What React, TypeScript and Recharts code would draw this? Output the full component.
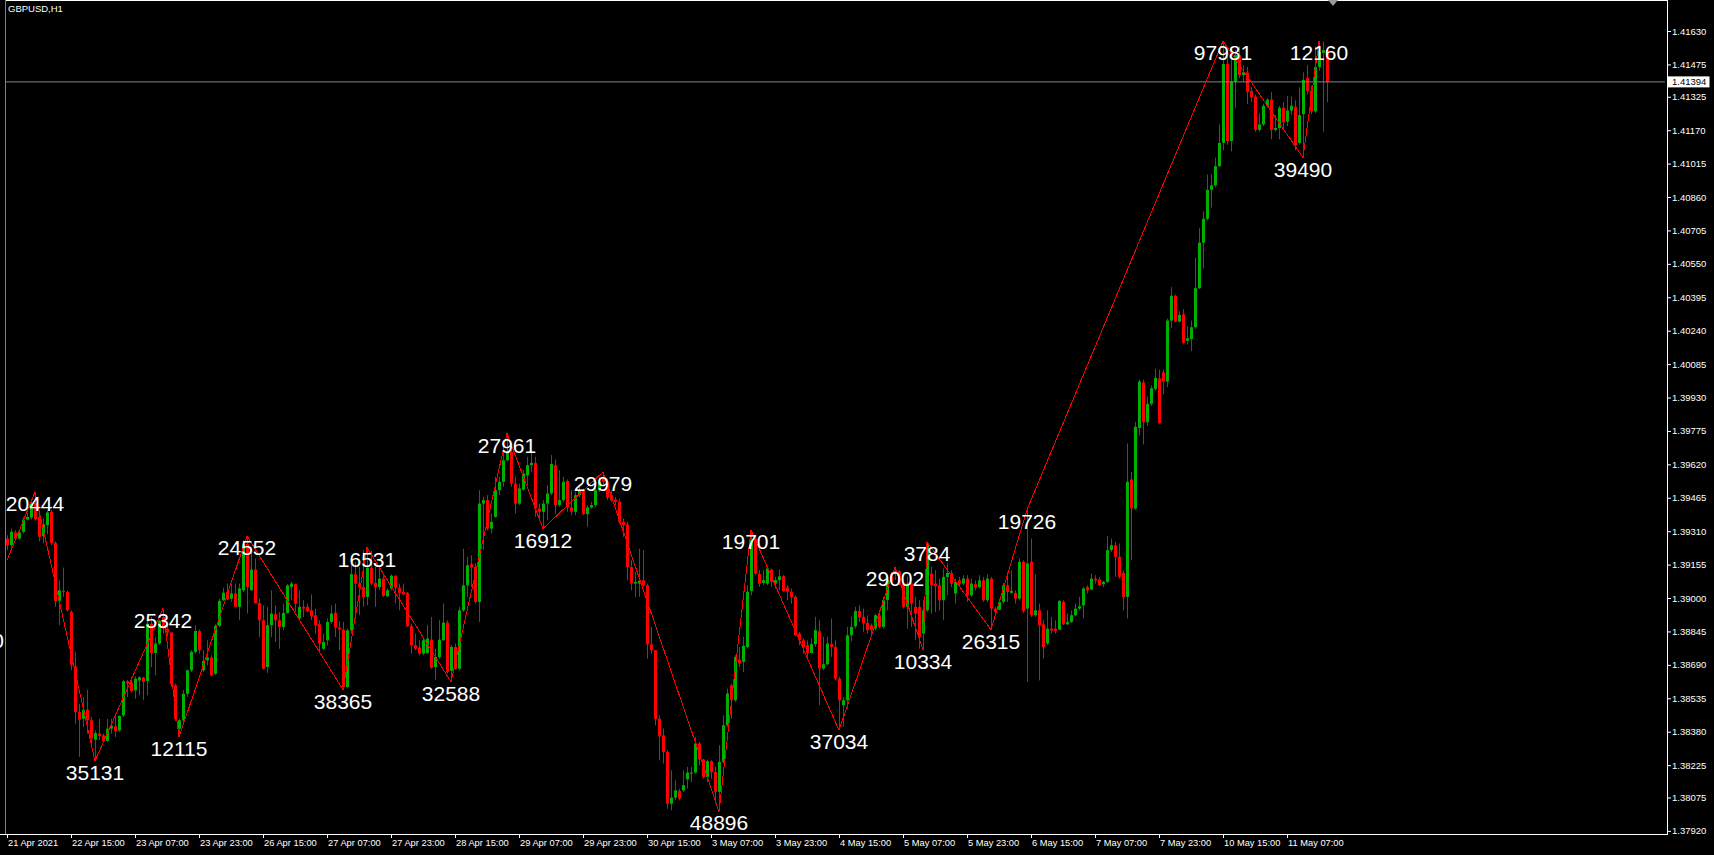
import React from 'react'
import { ComposedChart, Bar, Line, XAxis, YAxis, ReferenceLine, LabelList } from 'recharts'

// ---------------------------------------------------------------------------
// Data — GBPUSD H1, one tuple per bar: [open, high, low, close]
// ---------------------------------------------------------------------------

const SYMBOL = 'GBPUSD,H1'
const BID = 1.41394

const ohlc: [number, number, number, number][] = [
  [1.39276, 1.39291, 1.39222, 1.39245], [1.39245, 1.39322, 1.39234, 1.39307], [1.39304, 1.39315, 1.39268, 1.39276], [1.39276, 1.39318, 1.39268, 1.39304],
  [1.39307, 1.39376, 1.39299, 1.39364], [1.39364, 1.39395, 1.39358, 1.39376], [1.39373, 1.39457, 1.39364, 1.39438], [1.39441, 1.39491, 1.39358, 1.39366],
  [1.39376, 1.39395, 1.39263, 1.39284], [1.39287, 1.39369, 1.39253, 1.39342], [1.39338, 1.39407, 1.39296, 1.39397], [1.39400, 1.39410, 1.39245, 1.39256],
  [1.39256, 1.39263, 1.38959, 1.38985], [1.38987, 1.39082, 1.38874, 1.39036], [1.39033, 1.39141, 1.39005, 1.39027], [1.39028, 1.39036, 1.38936, 1.38943],
  [1.38936, 1.38943, 1.38665, 1.38691], [1.38683, 1.38750, 1.38417, 1.38471], [1.38471, 1.38510, 1.38263, 1.38436], [1.38440, 1.38541, 1.38402, 1.38482],
  [1.38482, 1.38575, 1.38371, 1.38433], [1.38433, 1.38448, 1.38324, 1.38348], [1.38343, 1.38386, 1.38244, 1.38374], [1.38371, 1.38440, 1.38340, 1.38360],
  [1.38363, 1.38371, 1.38332, 1.38337], [1.38337, 1.38440, 1.38332, 1.38394], [1.38394, 1.38440, 1.38371, 1.38408], [1.38405, 1.38464, 1.38355, 1.38383],
  [1.38386, 1.38456, 1.38379, 1.38453], [1.38456, 1.38621, 1.38448, 1.38614], [1.38614, 1.38621, 1.38541, 1.38603], [1.38608, 1.38634, 1.38564, 1.38569],
  [1.38572, 1.38637, 1.38533, 1.38626], [1.38618, 1.38637, 1.38549, 1.38632], [1.38631, 1.38634, 1.38526, 1.38611], [1.38615, 1.38889, 1.38549, 1.38881],
  [1.38881, 1.38912, 1.38680, 1.38745], [1.38745, 1.38819, 1.38642, 1.38789], [1.38789, 1.38900, 1.38781, 1.38894], [1.38912, 1.38951, 1.38835, 1.38858],
  [1.38858, 1.38881, 1.38823, 1.38840], [1.38840, 1.38843, 1.38587, 1.38600], [1.38595, 1.38603, 1.38430, 1.38440], [1.38394, 1.38440, 1.38355, 1.38433],
  [1.38433, 1.38572, 1.38425, 1.38556], [1.38556, 1.38668, 1.38541, 1.38665], [1.38665, 1.38758, 1.38657, 1.38750], [1.38750, 1.38874, 1.38742, 1.38847],
  [1.38847, 1.38854, 1.38742, 1.38758], [1.38665, 1.38758, 1.38657, 1.38708], [1.38711, 1.38804, 1.38688, 1.38724], [1.38724, 1.38734, 1.38637, 1.38642],
  [1.38649, 1.38878, 1.38642, 1.38871], [1.38871, 1.38997, 1.38866, 1.38987], [1.38990, 1.39048, 1.38985, 1.39025], [1.39028, 1.39067, 1.38990, 1.38994],
  [1.38997, 1.39067, 1.38982, 1.39021], [1.39021, 1.39067, 1.38959, 1.38959], [1.38959, 1.39067, 1.38897, 1.39044], [1.39036, 1.39268, 1.39028, 1.39250],
  [1.39250, 1.39288, 1.38928, 1.39051], [1.39036, 1.39214, 1.39033, 1.39132], [1.39132, 1.39183, 1.38974, 1.38977], [1.38977, 1.38997, 1.38819, 1.38897],
  [1.38897, 1.38966, 1.38668, 1.38672], [1.38680, 1.38959, 1.38652, 1.38874], [1.38874, 1.39036, 1.38819, 1.38928], [1.38925, 1.38966, 1.38796, 1.38897],
  [1.38897, 1.38935, 1.38765, 1.38866], [1.38866, 1.38974, 1.38850, 1.38931], [1.38931, 1.39064, 1.38928, 1.39059], [1.39051, 1.39075, 1.38990, 1.39067],
  [1.39064, 1.39067, 1.38935, 1.38974], [1.38905, 1.39036, 1.38900, 1.38959], [1.38959, 1.38990, 1.38912, 1.38951], [1.38959, 1.38974, 1.38935, 1.38940],
  [1.38943, 1.39017, 1.38897, 1.38915], [1.38920, 1.38951, 1.38835, 1.38874], [1.38878, 1.38897, 1.38750, 1.38789], [1.38765, 1.38835, 1.38758, 1.38796],
  [1.38804, 1.38905, 1.38781, 1.38889], [1.38889, 1.38966, 1.38881, 1.38928], [1.38931, 1.38974, 1.38819, 1.38863], [1.38863, 1.38892, 1.38758, 1.38855],
  [1.38853, 1.38889, 1.38575, 1.38587], [1.38587, 1.38858, 1.38580, 1.38850], [1.38850, 1.39160, 1.38835, 1.39110], [1.39110, 1.39168, 1.38920, 1.39067],
  [1.39067, 1.39144, 1.38920, 1.39051], [1.39051, 1.39222, 1.38959, 1.39005], [1.39005, 1.39234, 1.38966, 1.39141], [1.39141, 1.39219, 1.39059, 1.39067],
  [1.39070, 1.39144, 1.38959, 1.39051], [1.39051, 1.39144, 1.39036, 1.39090], [1.39090, 1.39106, 1.39005, 1.39010], [1.39008, 1.39044, 1.39005, 1.39036],
  [1.39044, 1.39110, 1.39036, 1.39103], [1.39103, 1.39106, 1.38974, 1.39048], [1.39048, 1.39067, 1.38943, 1.39024], [1.39028, 1.39067, 1.39013, 1.39017],
  [1.39024, 1.39028, 1.38866, 1.38869], [1.38869, 1.38881, 1.38742, 1.38781], [1.38781, 1.38835, 1.38758, 1.38765], [1.38770, 1.38804, 1.38734, 1.38742],
  [1.38742, 1.38812, 1.38734, 1.38804], [1.38745, 1.38874, 1.38742, 1.38812], [1.38807, 1.38912, 1.38672, 1.38677], [1.38680, 1.38765, 1.38621, 1.38727],
  [1.38727, 1.38897, 1.38719, 1.38807], [1.38804, 1.38974, 1.38801, 1.38886], [1.38886, 1.38897, 1.38649, 1.38657], [1.38662, 1.38781, 1.38611, 1.38773],
  [1.38773, 1.38789, 1.38668, 1.38672], [1.38672, 1.38959, 1.38665, 1.38943], [1.38943, 1.39229, 1.38935, 1.39059], [1.39059, 1.39191, 1.39005, 1.39152],
  [1.39157, 1.39198, 1.39051, 1.39141], [1.39144, 1.39160, 1.38974, 1.38982], [1.38982, 1.39500, 1.38889, 1.39438], [1.39438, 1.39469, 1.39222, 1.39454],
  [1.39454, 1.39477, 1.39314, 1.39322], [1.39322, 1.39392, 1.39299, 1.39353], [1.39376, 1.39562, 1.39373, 1.39500], [1.39500, 1.39562, 1.39477, 1.39539],
  [1.39539, 1.39686, 1.39516, 1.39639], [1.39639, 1.39763, 1.39632, 1.39678], [1.39678, 1.39709, 1.39516, 1.39531], [1.39531, 1.39562, 1.39392, 1.39438],
  [1.39438, 1.39531, 1.39431, 1.39508], [1.39503, 1.39593, 1.39497, 1.39577], [1.39570, 1.39655, 1.39523, 1.39616], [1.39616, 1.39678, 1.39585, 1.39627],
  [1.39627, 1.39655, 1.39376, 1.39415], [1.39415, 1.39438, 1.39361, 1.39400], [1.39400, 1.39454, 1.39322, 1.39438], [1.39438, 1.39523, 1.39361, 1.39485],
  [1.39485, 1.39663, 1.39477, 1.39621], [1.39616, 1.39642, 1.39392, 1.39431], [1.39431, 1.39593, 1.39423, 1.39454], [1.39454, 1.39562, 1.39446, 1.39539],
  [1.39543, 1.39550, 1.39400, 1.39420], [1.39420, 1.39500, 1.39384, 1.39400], [1.39400, 1.39492, 1.39384, 1.39477], [1.39477, 1.39523, 1.39469, 1.39500],
  [1.39500, 1.39508, 1.39384, 1.39389], [1.39389, 1.39431, 1.39330, 1.39420], [1.39420, 1.39446, 1.39415, 1.39431], [1.39431, 1.39516, 1.39423, 1.39500],
  [1.39500, 1.39562, 1.39492, 1.39539], [1.39562, 1.39585, 1.39523, 1.39539], [1.39539, 1.39554, 1.39454, 1.39466], [1.39477, 1.39500, 1.39446, 1.39454],
  [1.39457, 1.39469, 1.39431, 1.39446], [1.39446, 1.39461, 1.39345, 1.39353], [1.39353, 1.39369, 1.39284, 1.39338], [1.39342, 1.39353, 1.39082, 1.39144],
  [1.39144, 1.39175, 1.39036, 1.39067], [1.39067, 1.39121, 1.39005, 1.39075], [1.39067, 1.39229, 1.39005, 1.39079], [1.39082, 1.39222, 1.39051, 1.39059],
  [1.39059, 1.39067, 1.38719, 1.38785], [1.38785, 1.38866, 1.38742, 1.38758], [1.38758, 1.38758, 1.38409, 1.38440], [1.38440, 1.38456, 1.38247, 1.38358],
  [1.38363, 1.38395, 1.38232, 1.38286], [1.38286, 1.38294, 1.38023, 1.38046], [1.38046, 1.38201, 1.38015, 1.38074], [1.38074, 1.38155, 1.38062, 1.38108],
  [1.38105, 1.38116, 1.38062, 1.38070], [1.38108, 1.38201, 1.38101, 1.38132], [1.38159, 1.38217, 1.38116, 1.38190], [1.38186, 1.38217, 1.38147, 1.38190],
  [1.38190, 1.38356, 1.38186, 1.38325], [1.38325, 1.38333, 1.38224, 1.38251], [1.38251, 1.38255, 1.38162, 1.38170], [1.38170, 1.38251, 1.38147, 1.38243],
  [1.38243, 1.38248, 1.38162, 1.38193], [1.38193, 1.38217, 1.38046, 1.38101], [1.38101, 1.38317, 1.38010, 1.38240], [1.38240, 1.38456, 1.38232, 1.38410],
  [1.38410, 1.38580, 1.38402, 1.38557], [1.38595, 1.38603, 1.38441, 1.38526], [1.38526, 1.38735, 1.38518, 1.38727], [1.38715, 1.38773, 1.38680, 1.38696],
  [1.38704, 1.38820, 1.38657, 1.38778], [1.38773, 1.39060, 1.38766, 1.39029], [1.39033, 1.39315, 1.39013, 1.39271], [1.39276, 1.39292, 1.39106, 1.39114],
  [1.39111, 1.39129, 1.39052, 1.39067], [1.39070, 1.39129, 1.39060, 1.39083], [1.39067, 1.39145, 1.39060, 1.39137], [1.39132, 1.39137, 1.39052, 1.39075],
  [1.39067, 1.39098, 1.39044, 1.39083], [1.39083, 1.39132, 1.39036, 1.39101], [1.39101, 1.39106, 1.39029, 1.39033], [1.39049, 1.39060, 1.38990, 1.39029],
  [1.39029, 1.39044, 1.38974, 1.39005], [1.39005, 1.39013, 1.38823, 1.38827], [1.38835, 1.38843, 1.38781, 1.38804], [1.38804, 1.38812, 1.38742, 1.38773],
  [1.38781, 1.38804, 1.38727, 1.38745], [1.38745, 1.38812, 1.38742, 1.38786], [1.38786, 1.38913, 1.38773, 1.38851], [1.38846, 1.38897, 1.38503, 1.38673],
  [1.38673, 1.38820, 1.38665, 1.38693], [1.38693, 1.38820, 1.38688, 1.38789], [1.38786, 1.38905, 1.38727, 1.38773], [1.38773, 1.38804, 1.38619, 1.38626],
  [1.38626, 1.38634, 1.38387, 1.38526], [1.38503, 1.38541, 1.38402, 1.38526], [1.38526, 1.38866, 1.38487, 1.38827], [1.38827, 1.38913, 1.38800, 1.38866],
  [1.38869, 1.38959, 1.38858, 1.38940], [1.38940, 1.38967, 1.38889, 1.38909], [1.38913, 1.38951, 1.38843, 1.38882], [1.38885, 1.38920, 1.38835, 1.38851],
  [1.38874, 1.38882, 1.38827, 1.38851], [1.38858, 1.38928, 1.38851, 1.38920], [1.38920, 1.38936, 1.38858, 1.38866], [1.38866, 1.39005, 1.38858, 1.38990],
  [1.38990, 1.39098, 1.38943, 1.39083], [1.39111, 1.39121, 1.39067, 1.39075], [1.39111, 1.39145, 1.39083, 1.39126], [1.39126, 1.39129, 1.39060, 1.39067],
  [1.39067, 1.39090, 1.38951, 1.38959], [1.38959, 1.39098, 1.38858, 1.39067], [1.39067, 1.39075, 1.38866, 1.38974], [1.38959, 1.39005, 1.38804, 1.38928],
  [1.38959, 1.38990, 1.38765, 1.38820], [1.38835, 1.38990, 1.38758, 1.38943], [1.38943, 1.39260, 1.38935, 1.39253], [1.39113, 1.39144, 1.38928, 1.39059],
  [1.39067, 1.39129, 1.38935, 1.39055], [1.39059, 1.39090, 1.38943, 1.38990], [1.38990, 1.39137, 1.38897, 1.39098], [1.39098, 1.39160, 1.39013, 1.39116],
  [1.39116, 1.39129, 1.39051, 1.39067], [1.39021, 1.39090, 1.38974, 1.39075], [1.39082, 1.39098, 1.39051, 1.39067], [1.39067, 1.39106, 1.39059, 1.39090],
  [1.39090, 1.39106, 1.38982, 1.39013], [1.39013, 1.39090, 1.39005, 1.39067], [1.39064, 1.39082, 1.39036, 1.39048], [1.39051, 1.39106, 1.39044, 1.39082],
  [1.39082, 1.39098, 1.38982, 1.38990], [1.38990, 1.39110, 1.38982, 1.39090], [1.39090, 1.39098, 1.38853, 1.38951], [1.38951, 1.38959, 1.38920, 1.38935],
  [1.38946, 1.38997, 1.38943, 1.38982], [1.38982, 1.39070, 1.38974, 1.39059], [1.39059, 1.39121, 1.38982, 1.39028], [1.39024, 1.39129, 1.39021, 1.39033],
  [1.39024, 1.39036, 1.38974, 1.38997], [1.38997, 1.39183, 1.38990, 1.39168], [1.39168, 1.39175, 1.38931, 1.38940], [1.38951, 1.39410, 1.38611, 1.39160],
  [1.39168, 1.39276, 1.38912, 1.38920], [1.38920, 1.39110, 1.38912, 1.38943], [1.38943, 1.38974, 1.38618, 1.38874], [1.38878, 1.38897, 1.38719, 1.38773],
  [1.38789, 1.38943, 1.38781, 1.38858], [1.38858, 1.38912, 1.38835, 1.38850], [1.38858, 1.38897, 1.38835, 1.38847], [1.38853, 1.38990, 1.38850, 1.38987],
  [1.38982, 1.38990, 1.38874, 1.38878], [1.38878, 1.38928, 1.38874, 1.38889], [1.38889, 1.38943, 1.38884, 1.38920], [1.38920, 1.38974, 1.38915, 1.38951],
  [1.38951, 1.39005, 1.38943, 1.38962], [1.38966, 1.39051, 1.38905, 1.39044], [1.39051, 1.39059, 1.39021, 1.39036], [1.39039, 1.39113, 1.39036, 1.39090],
  [1.39090, 1.39106, 1.39067, 1.39082], [1.39086, 1.39098, 1.39055, 1.39059], [1.39064, 1.39079, 1.39051, 1.39075], [1.39075, 1.39287, 1.39070, 1.39222],
  [1.39222, 1.39276, 1.39214, 1.39245], [1.39245, 1.39260, 1.39098, 1.39191], [1.39191, 1.39253, 1.39090, 1.39098], [1.39116, 1.39129, 1.38943, 1.39005],
  [1.39005, 1.39717, 1.38905, 1.39539], [1.39550, 1.39585, 1.39175, 1.39415], [1.39415, 1.39817, 1.39407, 1.39794], [1.39789, 1.40012, 1.39755, 1.40004],
  [1.40000, 1.40012, 1.39712, 1.39815], [1.39815, 1.39935, 1.39798, 1.39901], [1.39901, 1.39987, 1.39892, 1.39973], [1.39970, 1.40064, 1.39961, 1.40021],
  [1.40018, 1.40059, 1.39806, 1.39812], [1.40047, 1.40059, 1.39944, 1.40004], [1.40004, 1.40296, 1.39978, 1.40287], [1.40287, 1.40442, 1.40253, 1.40402],
  [1.40402, 1.40407, 1.40279, 1.40282], [1.40282, 1.40330, 1.40279, 1.40313], [1.40316, 1.40339, 1.40179, 1.40184], [1.40193, 1.40261, 1.40176, 1.40205],
  [1.40201, 1.40287, 1.40145, 1.40256], [1.40256, 1.40579, 1.40248, 1.40437], [1.40437, 1.40716, 1.40433, 1.40648], [1.40648, 1.40794, 1.40528, 1.40759],
  [1.40759, 1.40965, 1.40751, 1.40893], [1.40893, 1.40965, 1.40811, 1.40914], [1.40914, 1.41043, 1.40905, 1.41003], [1.41003, 1.41197, 1.41000, 1.41111],
  [1.41111, 1.41583, 1.41077, 1.41477], [1.41477, 1.41523, 1.41103, 1.41120], [1.41120, 1.41558, 1.41072, 1.41395], [1.41395, 1.41541, 1.41274, 1.41518],
  [1.41518, 1.41558, 1.41412, 1.41426], [1.41426, 1.41472, 1.41395, 1.41438], [1.41438, 1.41463, 1.41292, 1.41347], [1.41352, 1.41369, 1.41300, 1.41323],
  [1.41326, 1.41335, 1.41163, 1.41171], [1.41171, 1.41249, 1.41163, 1.41197], [1.41197, 1.41292, 1.41189, 1.41283], [1.41283, 1.41317, 1.41274, 1.41312],
  [1.41312, 1.41347, 1.41128, 1.41171], [1.41171, 1.41240, 1.41163, 1.41180], [1.41180, 1.41283, 1.41128, 1.41274], [1.41274, 1.41300, 1.41180, 1.41206],
  [1.41209, 1.41329, 1.41189, 1.41261], [1.41261, 1.41326, 1.41240, 1.41283], [1.41278, 1.41309, 1.41077, 1.41099], [1.41111, 1.41369, 1.41103, 1.41240],
  [1.41244, 1.41438, 1.41043, 1.41403], [1.41412, 1.41472, 1.41335, 1.41352], [1.41352, 1.41377, 1.41244, 1.41257], [1.41257, 1.41558, 1.41249, 1.41463],
  [1.41463, 1.41583, 1.41446, 1.41532], [1.41529, 1.41580, 1.41163, 1.41541], [1.41541, 1.41549, 1.41300, 1.41394],
]

// ZigZag pivots: bar index, price, printed label
const pivotBars = [0, 7, 22, 39, 43, 60, 84, 90, 111, 125, 134, 149, 178, 186, 208, 222, 229, 230, 246, 255, 304, 324, 328]
const pivotPrices = [
  1.39175, 1.39491, 1.38244, 1.38951, 1.38355, 1.39288, 1.38575, 1.39234, 1.38611, 1.39763, 1.39322, 1.39585,
  1.3801, 1.39315, 1.38387, 1.39145, 1.38758, 1.3926, 1.38853, 1.3941, 1.41583, 1.41043, 1.41583,
]
const pivotLabels = [
  '', '20444', '35131', '25342', '12115', '24552', '38365', '16531', '32588', '27961', '16912', '29979',
  '48896', '19701', '37034', '29002', '10334', '3784', '26315', '19726', '97981', '39490', '12160',
]

// time scale: one label every 16 bars
const timeTickBars = [0, 16, 32, 48, 64, 80, 96, 112, 128, 144, 160, 176, 192, 208, 224, 240, 256, 272, 288, 304, 320]
const timeTickLabels = [
  '21 Apr 2021', '22 Apr 15:00', '23 Apr 07:00', '23 Apr 23:00', '26 Apr 15:00', '27 Apr 07:00', '27 Apr 23:00',
  '28 Apr 15:00', '29 Apr 07:00', '29 Apr 23:00', '30 Apr 15:00', '3 May 07:00', '3 May 23:00', '4 May 15:00',
  '5 May 07:00', '5 May 23:00', '6 May 15:00', '7 May 07:00', '7 May 23:00', '10 May 15:00', '11 May 07:00',
]

const priceTicks = [
  1.4163, 1.41475, 1.41325, 1.4117, 1.41015, 1.4086, 1.40705, 1.4055, 1.40395, 1.4024, 1.40085, 1.3993, 1.39775,
  1.3962, 1.39465, 1.3931, 1.39155, 1.39, 1.38845, 1.3869, 1.38535, 1.3838, 1.38225, 1.38075, 1.3792,
]

// ---------------------------------------------------------------------------
// Layout / palette
// ---------------------------------------------------------------------------

const W = 1714
const H = 855
const PLOT_BOTTOM = 834
const AXIS_X = 1667
const SLOTS = 415 // visible bar slots (4px each), the right part is empty
const Y_MIN = 1.379055
const Y_MAX = 1.417738

const BULL_BODY = '#00b000'
const BULL_WICK = '#008000'
const BEAR_BODY = '#ff0000'
const BEAR_WICK = '#ff0000'
const ZIGZAG = '#ff0000'
const BID_LINE = '#778899'
const FONT = '"Liberation Sans", Arial, sans-serif'

const rows = Array.from({ length: SLOTS }, (_, k) => {
  const c = ohlc[k]
  const p = pivotBars.indexOf(k)
  return {
    k,
    o: c ? c[0] : null,
    h: c ? c[1] : null,
    l: c ? c[2] : null,
    c: c ? c[3] : null,
    range: c ? [c[2], c[1]] : null,
    zz: p >= 0 ? pivotPrices[p] : null,
    zzLabel: p >= 0 && pivotLabels[p] ? pivotLabels[p] : null,
  }
})

// ---------------------------------------------------------------------------
// Renderers
// ---------------------------------------------------------------------------

function Candle(props: any) {
  const { x, y, width, height, payload } = props
  if (!payload || payload.o == null || y == null || isNaN(y)) return null
  const { o, h, l, c } = payload
  const top = Math.min(y, y + height)
  const span = Math.abs(height)
  const ratio = h > l ? span / (h - l) : 0
  const yOf = (v: number) => top + (h - v) * ratio
  const bull = c >= o
  const left = Math.round(x + width / 2 - 1.4)
  const bTop = yOf(Math.max(o, c))
  const bBot = yOf(Math.min(o, c))
  return (
    <g>
      <line x1={left + 1.5} x2={left + 1.5} y1={top} y2={top + Math.max(span, 1)} stroke={bull ? BULL_WICK : BEAR_WICK} strokeWidth={1} />
      <rect x={left} y={bTop} width={3} height={Math.max(1, bBot - bTop)} fill={bull ? BULL_BODY : BEAR_BODY} />
    </g>
  )
}

function TimeTick(props: any) {
  const { x, payload } = props
  const i = timeTickBars.indexOf(payload.value)
  if (i < 0) return null
  return (
    <g>
      <line x1={x + 0.5} x2={x + 0.5} y1={PLOT_BOTTOM} y2={PLOT_BOTTOM + 4} stroke="#fff" />
      <text x={x + 1} y={PLOT_BOTTOM + 12} fill="#fff" fontSize={9.3} fontFamily={FONT}>
        {timeTickLabels[i]}
      </text>
    </g>
  )
}

function PriceTick(props: any) {
  const { y, payload } = props
  return (
    <g>
      <line x1={AXIS_X} x2={AXIS_X + 4} y1={y + 0.5} y2={y + 0.5} stroke="#fff" />
      <text x={AXIS_X + 5} y={y + 3.5} fill="#fff" fontSize={9.5} fontFamily={FONT}>
        {Number(payload.value).toFixed(5)}
      </text>
    </g>
  )
}

function PivotLabel(props: any) {
  const { x, y, value } = props
  if (!value || y == null || isNaN(y)) return null
  return (
    <text x={x} y={y + 19} fill="#fff" fontSize={21} fontFamily={FONT} textAnchor="middle">
      {value}
    </text>
  )
}

function BidLabel(props: any) {
  const vb = props.viewBox || {}
  const y = vb.y
  if (y == null) return null
  return (
    <g>
      <rect x={AXIS_X + 0.5} y={y - 5.5} width={42} height={11} fill="#fff" />
      <text x={AXIS_X + 5} y={y + 3.5} fill="#000" fontSize={9.5} fontFamily={FONT}>
        {BID.toFixed(5)}
      </text>
    </g>
  )
}

export default function App() {
  return (
    <div style={{ position: 'absolute', left: 0, top: 0, width: W, height: H, background: '#000', overflow: 'hidden' }}>
      <ComposedChart
        width={W}
        height={H}
        data={rows}
        margin={{ top: 0, right: 0, bottom: 0, left: 5 }}
        barCategoryGap={0}
        barGap={0}
      >
        <XAxis
          dataKey="k"
          type="category"
          ticks={timeTickBars}
          interval={0}
          tick={<TimeTick />}
          tickLine={false}
          axisLine={false}
          height={21}
        />
        <YAxis
          orientation="right"
          type="number"
          domain={[Y_MIN, Y_MAX]}
          allowDataOverflow
          ticks={priceTicks}
          interval={0}
          tick={<PriceTick />}
          tickLine={false}
          axisLine={false}
          width={49}
        />
        <ReferenceLine y={BID} stroke={BID_LINE} strokeWidth={1} label={<BidLabel />} ifOverflow="visible" />
        <Bar dataKey="range" shape={<Candle />} isAnimationActive={false} />
        <Line
          type="linear"
          dataKey="zz"
          stroke={ZIGZAG}
          strokeWidth={1}
          shapeRendering="crispEdges"
          dot={false}
          activeDot={false}
          connectNulls
          isAnimationActive={false}
        >
          <LabelList dataKey="zzLabel" content={<PivotLabel />} />
        </Line>
      </ComposedChart>
      <svg width={W} height={H} style={{ position: 'absolute', left: 0, top: 0, pointerEvents: 'none' }}>
        <line x1={5} x2={AXIS_X + 1} y1={0.5} y2={0.5} stroke="#fff" />
        <line x1={5.5} x2={5.5} y1={0} y2={PLOT_BOTTOM} stroke="#808080" />
        <line x1={0} x2={AXIS_X + 1} y1={PLOT_BOTTOM + 0.5} y2={PLOT_BOTTOM + 0.5} stroke="#fff" />
        <line x1={AXIS_X + 0.5} x2={AXIS_X + 0.5} y1={0} y2={PLOT_BOTTOM + 1} stroke="#fff" />
        <polygon points="1328,0 1338,0 1333,6" fill="#9a9a9a" />
        <text x={4} y={648} fill="#fff" fontSize={21} fontFamily={FONT} textAnchor="end">
          0
        </text>
        <text x={8} y={12} fill="#fff" fontSize={9.5} fontFamily={FONT}>
          {SYMBOL}
        </text>
      </svg>
    </div>
  )
}
